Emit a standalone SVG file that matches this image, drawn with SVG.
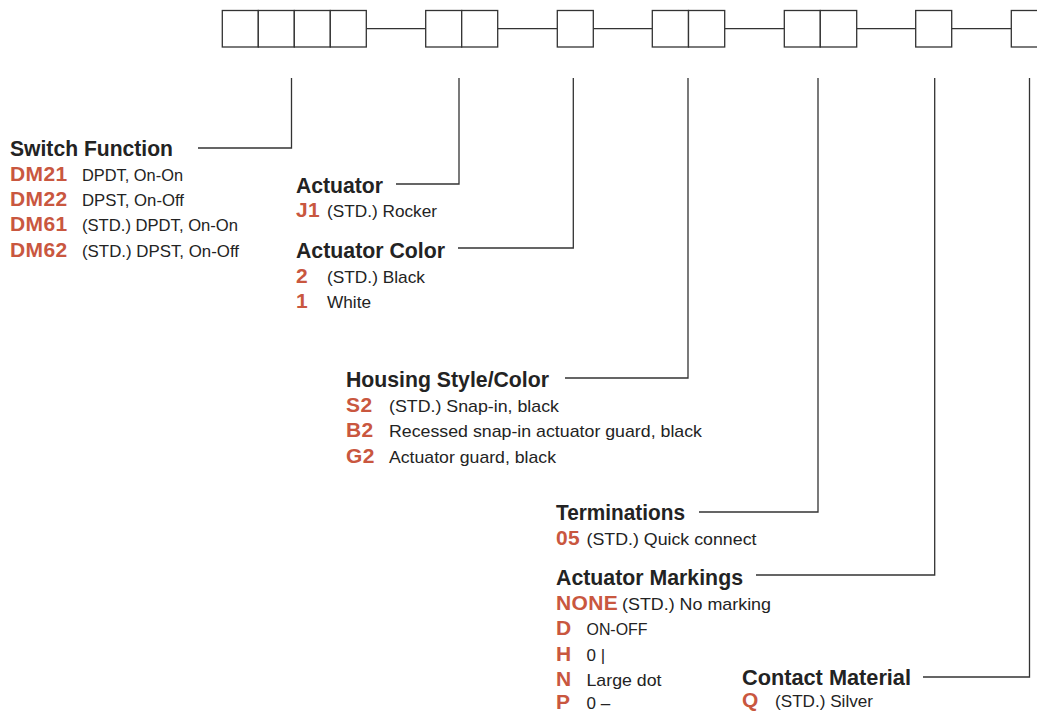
<svg xmlns="http://www.w3.org/2000/svg" width="1037" height="715" viewBox="0 0 1037 715">
<style>
.box{fill:#fff;stroke:#333;stroke-width:1.3}
.ln{fill:none;stroke:#333;stroke-width:1.3}
.t{font-family:"Liberation Sans",Arial,sans-serif;font-weight:bold;font-size:21.5px;fill:#232323}
.c{font-family:"Liberation Sans",Arial,sans-serif;font-weight:bold;font-size:21px;letter-spacing:0.4px;fill:#c9573f}
.d{font-family:"Liberation Sans",Arial,sans-serif;font-size:17px;fill:#232323}
</style>
<rect width="1037" height="715" fill="#fff"/>
<g id="connectors">
<path class="ln" d="M366.3 28.7H425.7M497.7 28.7H557.3M593.3 28.7H652.3M724.7 28.7H784.3M856.7 28.7H915.7M951.7 28.7H1011.3"/>
<path class="ln" d="M291.5 78V148H198"/>
<path class="ln" d="M459 78V184H396"/>
<path class="ln" d="M573.3 78V248H458"/>
<path class="ln" d="M688 78V378H565"/>
<path class="ln" d="M818 78V512H699"/>
<path class="ln" d="M934.7 78V575H756"/>
<path class="ln" d="M1029.5 78V677H923"/>
</g>
<g id="code-boxes">
<rect class="box" x="222.3" y="10.5" width="36" height="36.5"/>
<rect class="box" x="258.3" y="10.5" width="36" height="36.5"/>
<rect class="box" x="294.3" y="10.5" width="36" height="36.5"/>
<rect class="box" x="330.3" y="10.5" width="36" height="36.5"/>
<rect class="box" x="425.7" y="10.5" width="36" height="36.5"/>
<rect class="box" x="461.7" y="10.5" width="36" height="36.5"/>
<rect class="box" x="557.3" y="10.5" width="36" height="36.5"/>
<rect class="box" x="652.3" y="10.5" width="36.2" height="36.5"/>
<rect class="box" x="688.5" y="10.5" width="36.2" height="36.5"/>
<rect class="box" x="784.3" y="10.5" width="36" height="36.5"/>
<rect class="box" x="820.3" y="10.5" width="36.4" height="36.5"/>
<rect class="box" x="915.7" y="10.5" width="36" height="36.5"/>
<rect class="box" x="1011.3" y="10.5" width="36" height="36.5"/>
</g>
<g id="switch-function">
<text class="t" x="10" y="156" textLength="163" lengthAdjust="spacingAndGlyphs">Switch Function</text>
<text class="c" x="10" y="181">DM21</text><text class="d" x="82" y="181" textLength="101" lengthAdjust="spacingAndGlyphs">DPDT, On-On</text>
<text class="c" x="10" y="206">DM22</text><text class="d" x="82" y="206" textLength="102" lengthAdjust="spacingAndGlyphs">DPST, On-Off</text>
<text class="c" x="10" y="231">DM61</text><text class="d" x="82" y="231" textLength="156" lengthAdjust="spacingAndGlyphs">(STD.) DPDT, On-On</text>
<text class="c" x="10" y="257">DM62</text><text class="d" x="82" y="257" textLength="157" lengthAdjust="spacingAndGlyphs">(STD.) DPST, On-Off</text>
</g>
<g id="actuator">
<text class="t" x="296" y="192.5" textLength="87" lengthAdjust="spacingAndGlyphs">Actuator</text>
<text class="c" x="296" y="217">J1</text><text class="d" x="327" y="217" textLength="110" lengthAdjust="spacingAndGlyphs">(STD.) Rocker</text>
</g>
<g id="actuator-color">
<text class="t" x="296" y="257.5" textLength="149" lengthAdjust="spacingAndGlyphs">Actuator Color</text>
<text class="c" x="296" y="283">2</text><text class="d" x="327" y="283" textLength="98" lengthAdjust="spacingAndGlyphs">(STD.) Black</text>
<text class="c" x="296" y="308">1</text><text class="d" x="327" y="308" textLength="44" lengthAdjust="spacingAndGlyphs">White</text>
</g>
<g id="housing">
<text class="t" x="346" y="387" textLength="203" lengthAdjust="spacingAndGlyphs">Housing Style/Color</text>
<text class="c" x="346" y="412">S2</text><text class="d" x="389" y="412" textLength="170" lengthAdjust="spacingAndGlyphs">(STD.) Snap-in, black</text>
<text class="c" x="346" y="437">B2</text><text class="d" x="389" y="437" textLength="313" lengthAdjust="spacingAndGlyphs">Recessed snap-in actuator guard, black</text>
<text class="c" x="346" y="462.5">G2</text><text class="d" x="389" y="462.5" textLength="167" lengthAdjust="spacingAndGlyphs">Actuator guard, black</text>
</g>
<g id="terminations">
<text class="t" x="556" y="520" textLength="129" lengthAdjust="spacingAndGlyphs">Terminations</text>
<text class="c" x="556" y="545">05</text><text class="d" x="586.5" y="545" textLength="170" lengthAdjust="spacingAndGlyphs">(STD.) Quick connect</text>
</g>
<g id="actuator-markings">
<text class="t" x="556" y="585" textLength="187" lengthAdjust="spacingAndGlyphs">Actuator Markings</text>
<text class="c" x="556" y="609.5">NONE</text><text class="d" x="622" y="609.5" textLength="149" lengthAdjust="spacingAndGlyphs">(STD.) No marking</text>
<text class="c" x="556" y="634.5">D</text><text class="d" x="586.5" y="634.5" textLength="61" lengthAdjust="spacingAndGlyphs">ON-OFF</text>
<text class="c" x="556" y="660.5">H</text><text class="d" x="586.5" y="660.5">0 |</text>
<text class="c" x="556" y="686">N</text><text class="d" x="586.5" y="686" textLength="75" lengthAdjust="spacingAndGlyphs">Large dot</text>
<text class="c" x="556" y="708.5">P</text><text class="d" x="586.5" y="708.5">0 –</text>
</g>
<g id="contact-material">
<text class="t" x="742" y="685" textLength="169" lengthAdjust="spacingAndGlyphs">Contact Material</text>
<text class="c" x="742" y="707">Q</text><text class="d" x="775" y="707" textLength="98" lengthAdjust="spacingAndGlyphs">(STD.) Silver</text>
</g>
</svg>
